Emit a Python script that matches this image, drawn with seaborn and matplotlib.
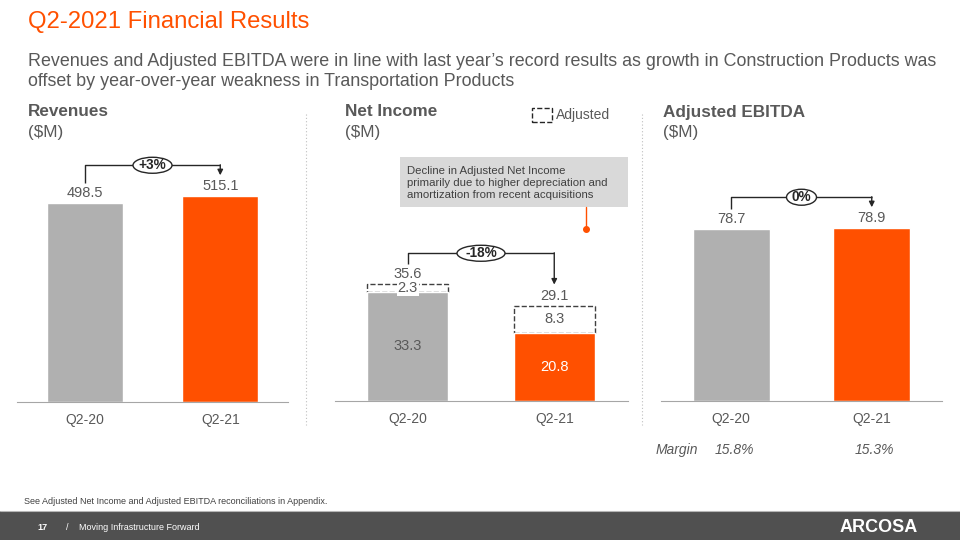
import matplotlib
matplotlib.use("Agg")
import matplotlib.pyplot as plt
from matplotlib.patches import Rectangle, Ellipse
from matplotlib.lines import Line2D
import pandas as pd
import seaborn as sns

# chart data
quarters = ["Q2-20", "Q2-21"]
revenues = [498.5, 515.1]
revenue_change = "+3%"
net_income = [33.3, 20.8]
net_income_adj_items = [2.3, 8.3]
adjusted_net_income = [35.6, 29.1]
net_income_change = "-18%"
adj_ebitda = [78.7, 78.9]
ebitda_change = "0%"
ebitda_margin = ["15.8%", "15.3%"]

GRAY_BAR = "#B0B0B0"
ORANGE = "#FF5000"
TEXT = "#595959"
DARK = "#404040"
LINE = "#262626"
AXIS = "#A6A6A6"

sns.set_style("white")
plt.rcParams["font.family"] = ["Liberation Sans", "DejaVu Sans"]

W, H = 960, 540
fig = plt.figure(figsize=(9.6, 5.4), dpi=100)


def fx(px):
    return px / W


def fy(py):
    return 1 - py / H


def add_panel(x0, x1, y_top, y_base):
    return fig.add_axes([fx(x0), fy(y_base), (x1 - x0) / W, (y_base - y_top) / H])


def dy(ax, px):
    lo, hi = ax.get_ylim()
    return px / ax.bbox.height * (hi - lo)


def dx(ax, px):
    lo, hi = ax.get_xlim()
    return px / ax.bbox.width * (hi - lo)


def style_axis(ax, ymax):
    ax.set_xlim(-0.5, 1.5)
    ax.set_ylim(0, ymax)
    sns.despine(ax=ax, left=True)
    ax.spines["bottom"].set_color(AXIS)
    ax.set_yticks([])
    ax.set_xlabel("")
    ax.set_ylabel("")
    ax.set_xticks([0, 1])
    ax.set_xticklabels(quarters)
    ax.tick_params(axis="x", which="major", length=0, pad=8, labelsize=10, labelcolor=TEXT)
    ax.set_xticks([-0.5, 0.5, 1.5], minor=True)
    ax.tick_params(axis="x", which="minor", length=4, color=AXIS, direction="out")
    ax.patch.set_alpha(0)


def bars(ax, values, width, **kws):
    df = pd.DataFrame({"quarter": quarters, "value": values})
    sns.barplot(data=df, x="quarter", y="value", hue="quarter",
                palette=[GRAY_BAR, ORANGE], legend=False, width=width,
                saturation=1, ax=ax, **kws)


def value_labels(ax, values):
    for i, v in enumerate(values):
        ax.annotate(f"{v:.1f}", (i, v), xytext=(0, 2), textcoords="offset points",
                    ha="center", va="bottom", fontsize=10.5, color=TEXT)


def bracket(ax, tops, label):
    y0 = tops[0] + dy(ax, 20)
    y1 = tops[1] + dy(ax, 21)
    yh = max(tops) + dy(ax, 31)
    ax.plot([0, 0, 1], [y0, yh, yh], color=LINE, lw=1, solid_capstyle="butt")
    ax.annotate("", xy=(1, y1), xytext=(1, yh + dy(ax, 0.5)),
                arrowprops=dict(arrowstyle="-|>", color=LINE, lw=1,
                                mutation_scale=8, shrinkA=0, shrinkB=0))
    ax.add_patch(Ellipse((0.5, yh), dx(ax, 12 + 9 * len(label)), dy(ax, 16),
                         fc="white", ec=LINE, lw=1, zorder=5))
    ax.text(0.5, yh, label, ha="center", va="center", fontsize=9.8,
            fontweight="bold", color=LINE, zorder=6)


# ---- Revenues
ax1 = add_panel(17, 288, 140, 402)
bars(ax1, revenues, 0.56)
style_axis(ax1, 656)
value_labels(ax1, revenues)
bracket(ax1, revenues, revenue_change)

# ---- Net Income
ax2 = add_panel(334.5, 627.5, 140, 401)
ni = pd.DataFrame({"quarter": quarters, "adjusted": adjusted_net_income})
sns.barplot(data=ni, x="quarter", y="adjusted", color="white", width=0.55,
            saturation=1, ax=ax2, edgecolor=DARK, linewidth=1, linestyle="--")
n_adj = len(ax2.patches)
# dashed boxes only cover the adjusting items, sitting on top of GAAP income
for p, g in zip(ax2.patches[:n_adj], net_income):
    p.set_height(p.get_height() - g)
    p.set_y(g)
bars(ax2, net_income, 0.55)
style_axis(ax2, 79.6)
value_labels(ax2, adjusted_net_income)
inner_colors = [TEXT, "white"]
for i, (g, a) in enumerate(zip(net_income, net_income_adj_items)):
    ax2.text(i, g + a / 2, f"{a:.1f}", ha="center", va="center", fontsize=10.5,
             color=TEXT, zorder=6,
             bbox=dict(boxstyle="square,pad=0.05", fc="white", ec="none"))
    ax2.text(i, g / 2, f"{g:.1f}", ha="center", va="center", fontsize=10.5,
             color=inner_colors[i], zorder=6)
bracket(ax2, adjusted_net_income, net_income_change)

# ---- Adjusted EBITDA
ax3 = add_panel(661, 942, 140, 401)
bars(ax3, adj_ebitda, 0.55)
style_axis(ax3, 119.2)
value_labels(ax3, adj_ebitda)
bracket(ax3, adj_ebitda, ebitda_change)
ax3.annotate("Margin", xy=(0, 0), xycoords=("data", "axes fraction"),
             xytext=(-24, -35), textcoords="offset points", ha="right", va="center",
             fontsize=10, style="italic", color=TEXT)
for i, m in enumerate(ebitda_margin):
    ax3.annotate(m, xy=(i, 0), xycoords=("data", "axes fraction"),
                 xytext=(2, -35), textcoords="offset points", ha="center",
                 va="center", fontsize=10, style="italic", color=TEXT)

# ---- slide text
fig.text(fx(28), fy(22), "Q2-2021 Financial Results", fontsize=17.2, color=ORANGE,
         va="center")
fig.text(fx(28), fy(61),
         "Revenues and Adjusted EBITDA were in line with last year\u2019s record results "
         "as growth in Construction Products was", fontsize=12.9, color=TEXT, va="center")
fig.text(fx(28), fy(81), "offset by year-over-year weakness in Transportation Products",
         fontsize=12.9, color=TEXT, va="center")

for x, head in [(28, "Revenues"), (345, "Net Income"), (663, "Adjusted EBITDA")]:
    fig.text(fx(x), fy(112), head, fontsize=12.3, fontweight="bold", color=TEXT, va="center")
    fig.text(fx(x), fy(132), "($M)", fontsize=12.3, color=TEXT, va="center")

for x in (305.5, 642):
    fig.add_artist(Line2D([fx(x), fx(x)], [fy(114), fy(425)], color="#BFBFBF",
                          lw=0.8, ls=(0, (1, 2))))

# legend for the adjusted items
fig.add_artist(Rectangle((fx(532), fy(122)), 20 / W, 14 / H, fc="white", ec=LINE,
                         lw=1, ls="--", transform=fig.transFigure))
fig.text(fx(556), fy(115), "Adjusted", fontsize=10, color=TEXT, va="center")

# callout
fig.add_artist(Rectangle((fx(400), fy(207)), 228 / W, 50 / H, fc="#D9D9D9", ec="none",
                         transform=fig.transFigure))
fig.text(fx(407), fy(183),
         "Decline in Adjusted Net Income\nprimarily due to higher depreciation and\n"
         "amortization from recent acquisitions",
         fontsize=8.2, color=DARK, va="center", linespacing=1.3)
fig.add_artist(Line2D([fx(586), fx(586)], [fy(207), fy(229)], color=ORANGE, lw=1))
fig.add_artist(Line2D([fx(586)], [fy(229)], color=ORANGE, marker="o", ms=4, lw=0))

# footer
fig.text(fx(24), fy(502), "See Adjusted Net Income and Adjusted EBITDA reconciliations in Appendix.",
         fontsize=6.5, color=DARK, va="center")
fig.add_artist(Rectangle((0, 0), 1, 29 / H, fc="#505050", ec="none",
                         transform=fig.transFigure))
fig.add_artist(Line2D([0, 1], [29 / H, 29 / H], color="#B5B5B5", lw=0.8))
fig.text(fx(37), fy(528), "17", fontsize=6.5, fontweight="bold", color="white", va="center")
fig.text(fx(66), fy(527), "/", fontsize=6.5, color="white", va="center")
fig.text(fx(79), fy(528), "Moving Infrastructure Forward", fontsize=6.5, color="white",
         va="center")
fig.text(fx(918), fy(527), "ARCOSA", fontsize=13, fontweight="bold", color="white",
         va="center", ha="right")

fig.savefig("out.png", dpi=100)
